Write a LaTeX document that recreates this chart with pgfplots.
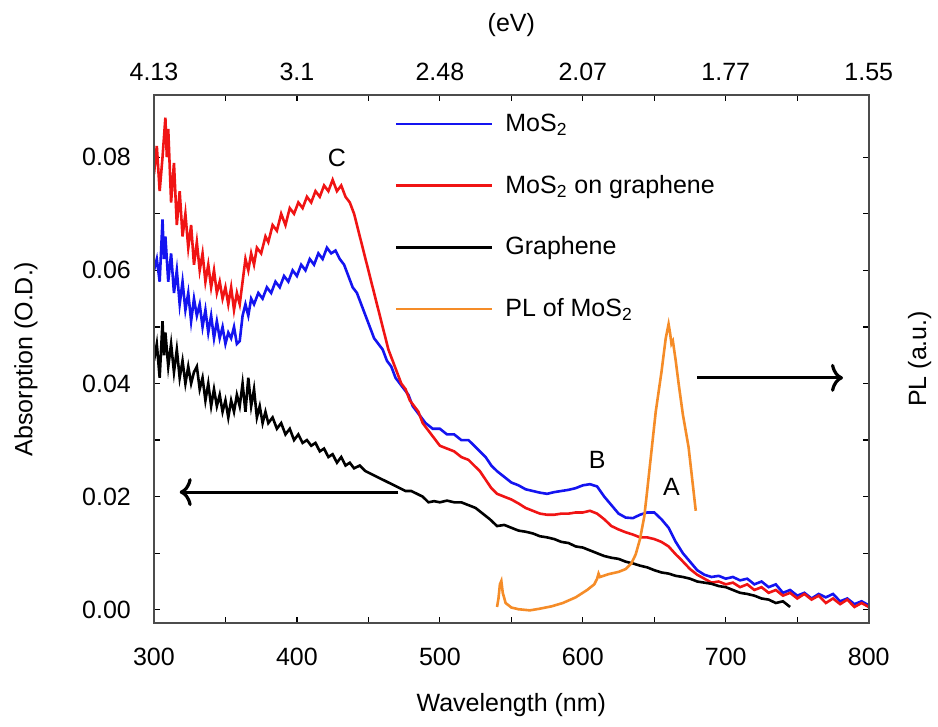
\documentclass[border=0pt]{standalone}
\usepackage{pgfplots}
\pgfplotsset{compat=1.18}
\usepackage{fontspec}
\setmainfont{Liberation Sans}
\usetikzlibrary{arrows.meta}
\definecolor{myblue}{RGB}{20,20,240}
\definecolor{myred}{RGB}{240,20,20}
\definecolor{myorange}{RGB}{245,140,40}
\newcommand{\fs}{\fontsize{12.5}{15}\selectfont}
\begin{document}
\begin{tikzpicture}
\begin{axis}[
  scale only axis, width=357.5pt, height=264pt,
  xmin=300, xmax=800, ymin=-0.0023, ymax=0.0910,
  xtick={300,400,...,800}, minor xtick={350,450,...,750},
  ytick={0,0.02,0.04,0.06,0.08}, minor ytick={0.01,0.03,0.05,0.07},
  xtick pos=bottom, ytick pos=left,
  tick align=inside, major tick length=3pt, minor tick length=3pt,
  every tick/.style={black, line width=0.6pt},
  axis line style={line width=0.8pt, black!70},
  /pgf/number format/assume math mode=true,
  yticklabel style={/pgf/number format/fixed, /pgf/number format/precision=2, /pgf/number format/fixed zerofill, font=\fs, xshift=-8pt},
  xticklabel style={font=\fs, /pgf/number format/1000 sep={}, yshift=-9pt},
  scaled y ticks=false,
  xlabel={Wavelength (nm)}, ylabel={Absorption (O.D.)},
  label style={font=\fs},
  xlabel style={at={(axis description cs:0.5,-0.155)}, anchor=center},
  ylabel style={at={(axis description cs:-0.179,0.5)}, anchor=center},
  legend style={at={(axis description cs:0.328,0.98)}, anchor=north west, draw=none, fill=none, font=\fs, row sep=16.3pt,
    /tikz/every odd column/.append style={column sep=4pt}},
  legend cell align=left,
  legend image code/.code={\draw[#1] (0pt,0pt) -- (48pt,0pt);},
  clip=true,
]
\addplot[myblue, line width=1.3pt] coordinates {
(300,0.060)(302,0.062)(304,0.058)(306,0.069)(307,0.062)(308,0.066)(310,0.058)(312,0.063)(314,0.056)(316,0.060)
(318,0.054)(320,0.058)(322,0.053)(324,0.056)(326,0.051)(328,0.055)(330,0.052)(332,0.054)(334,0.050)(336,0.053)
(338,0.049)(340,0.052)(342,0.048)(344,0.051)(346,0.048)(348,0.050)(350,0.047)(352,0.049)(354,0.048)(356,0.050)
(358,0.047)(360,0.0475)(362,0.052)(364,0.054)(366,0.052)(368,0.055)(370,0.054)(373,0.056)(376,0.055)(379,0.057)
(382,0.056)(385,0.058)(388,0.057)(391,0.059)(394,0.058)(397,0.060)(400,0.059)(403,0.061)(406,0.060)(409,0.062)
(412,0.061)(415,0.063)(418,0.062)(421,0.064)(424,0.063)(427,0.0635)(430,0.062)(433,0.061)(436,0.059)(439,0.057)
(442,0.056)(445,0.054)(448,0.052)(451,0.050)(454,0.048)(457,0.047)(460,0.046)(463,0.044)(466,0.043)(469,0.041)
(472,0.040)(475,0.039)(478,0.038)(481,0.036)(484,0.035)(487,0.034)(490,0.033)(495,0.032)(500,0.032)(505,0.031)
(510,0.031)(515,0.030)(520,0.030)(524,0.029)(528,0.028)(532,0.027)(536,0.0255)(540,0.0245)(545,0.0235)(550,0.0225)
(555,0.022)(560,0.0213)(565,0.021)(570,0.0207)(575,0.0205)(580,0.0208)(585,0.021)(590,0.0212)(595,0.0215)(600,0.022)
(605,0.0222)(610,0.0218)(615,0.020)(620,0.0185)(625,0.017)(630,0.0163)(635,0.0162)(640,0.0168)(645,0.0172)(650,0.0172)
(655,0.016)(660,0.0145)(665,0.012)(670,0.010)(675,0.0085)(680,0.007)(685,0.0062)(690,0.0058)(695,0.006)(700,0.0055)
(705,0.0058)(710,0.0052)(715,0.0055)(720,0.0045)(725,0.005)(730,0.004)(735,0.0045)(740,0.003)(745,0.0035)(750,0.0025)
(755,0.003)(760,0.002)(765,0.0028)(770,0.0022)(775,0.0028)(780,0.0015)(785,0.002)(790,0.001)(795,0.0015)(800,0.0008)
};
\addlegendentry{MoS\textsubscript{2}}
\addplot[myred, line width=1.3pt] coordinates {
(300,0.077)(302,0.082)(304,0.074)(306,0.080)(308,0.087)(309,0.080)(310,0.085)(312,0.072)(314,0.079)(316,0.068)
(318,0.074)(320,0.066)(322,0.070)(324,0.064)(326,0.068)(328,0.061)(330,0.065)(332,0.060)(334,0.063)(336,0.058)
(338,0.061)(340,0.057)(342,0.060)(344,0.056)(346,0.058)(348,0.055)(350,0.057)(352,0.054)(354,0.057)(356,0.053)
(358,0.056)(360,0.054)(362,0.058)(364,0.062)(366,0.060)(368,0.063)(370,0.061)(372,0.064)(375,0.063)(378,0.066)
(380,0.065)(383,0.068)(386,0.067)(389,0.070)(392,0.068)(395,0.071)(398,0.070)(401,0.072)(404,0.071)(407,0.073)
(410,0.072)(413,0.074)(416,0.073)(419,0.075)(422,0.074)(425,0.076)(428,0.074)(431,0.075)(434,0.073)(437,0.072)
(440,0.070)(443,0.067)(446,0.064)(449,0.061)(452,0.058)(455,0.055)(458,0.052)(461,0.049)(464,0.046)(467,0.044)
(470,0.042)(473,0.040)(476,0.039)(479,0.037)(482,0.036)(485,0.035)(488,0.033)(491,0.032)(494,0.031)(497,0.030)
(500,0.029)(505,0.0285)(510,0.028)(515,0.027)(520,0.0265)(524,0.0255)(528,0.0245)(532,0.023)(536,0.0215)(540,0.0205)
(545,0.020)(550,0.0195)(555,0.0188)(560,0.018)(565,0.0175)(570,0.017)(575,0.0168)(580,0.0168)(585,0.017)(590,0.017)
(595,0.0172)(600,0.0172)(605,0.0175)(610,0.017)(615,0.016)(620,0.0148)(625,0.0142)(630,0.0137)(635,0.0133)(640,0.0128)
(645,0.0128)(650,0.0125)(655,0.012)(660,0.0112)(665,0.0098)(669,0.0088)(675,0.0072)(680,0.0062)(685,0.0055)(690,0.0048)
(695,0.005)(700,0.0045)(705,0.0048)(710,0.004)(715,0.0045)(720,0.0035)(725,0.004)(730,0.003)(735,0.0035)(740,0.0025)
(745,0.003)(750,0.002)(755,0.0028)(760,0.0018)(765,0.0025)(770,0.0012)(775,0.002)(780,0.001)(785,0.0018)(790,0.0005)
(795,0.0012)(800,0.0005)
};
\addlegendentry{MoS\textsubscript{2} on graphene}
\addplot[black, line width=1.3pt] coordinates {
(300,0.044)(302,0.047)(304,0.041)(306,0.051)(307,0.045)(308,0.049)(310,0.043)(312,0.047)(314,0.042)(316,0.046)
(318,0.041)(320,0.044)(322,0.040)(324,0.043)(326,0.040)(328,0.042)(330,0.043)(332,0.039)(334,0.041)(336,0.037)
(338,0.040)(340,0.036)(342,0.039)(344,0.036)(346,0.038)(348,0.035)(350,0.037)(352,0.034)(354,0.037)(356,0.035)
(358,0.038)(360,0.036)(362,0.040)(364,0.035)(366,0.041)(368,0.036)(370,0.039)(372,0.034)(374,0.036)(376,0.033)
(378,0.035)(380,0.033)(383,0.034)(386,0.032)(389,0.033)(392,0.031)(395,0.032)(398,0.030)(401,0.031)(404,0.0295)
(407,0.030)(410,0.029)(413,0.0295)(416,0.028)(419,0.0285)(422,0.027)(425,0.0275)(428,0.026)(431,0.027)(434,0.0255)
(437,0.026)(440,0.025)(444,0.0255)(448,0.0245)(452,0.024)(456,0.0235)(460,0.023)(464,0.0225)(468,0.022)(472,0.0215)
(476,0.021)(480,0.021)(484,0.0205)(488,0.020)(492,0.019)(496,0.0192)(500,0.019)(505,0.0193)(510,0.019)(515,0.019)
(520,0.0185)(525,0.018)(530,0.017)(535,0.016)(540,0.0148)(545,0.015)(550,0.0145)(555,0.014)(560,0.0138)(565,0.0135)
(570,0.013)(575,0.0128)(580,0.0125)(585,0.012)(590,0.0118)(595,0.0112)(600,0.011)(605,0.0105)(610,0.010)(615,0.0095)
(620,0.0092)(625,0.009)(630,0.0085)(635,0.0082)(640,0.0078)(645,0.0075)(650,0.007)(655,0.0066)(660,0.0064)(665,0.006)
(670,0.0058)(675,0.0055)(680,0.005)(685,0.0048)(690,0.0046)(695,0.0042)(700,0.004)(705,0.0035)(710,0.003)(715,0.0028)
(720,0.0025)(725,0.002)(730,0.0018)(735,0.0012)(740,0.0015)(745,0.0005)
};
\addlegendentry{Graphene}
\addplot[myorange, line width=1.3pt] coordinates {
(540,0.0005)(541,0.002)(542,0.0045)(543,0.0051)(544,0.003)(546,0.0012)(550,0.0004)(555,0.0001)(563,-0.0001)(570,0.0002)
(578,0.0006)(586,0.0012)(595,0.0022)(603,0.0035)(608,0.0045)(610,0.0055)(611,0.0064)(612,0.0058)(618,0.0063)(625,0.0067)
(630,0.0072)(634,0.0082)(637,0.0098)(640,0.0125)(643,0.0165)(645,0.021)(648,0.028)(651,0.035)(655,0.042)(658,0.048)
(660,0.0505)(661,0.049)(662,0.047)(663,0.0475)(665,0.044)(667,0.040)(670,0.0345)(674,0.0287)(677,0.022)(679,0.0175)
};
\addlegendentry{PL of MoS\textsubscript{2}}
\node[font=\fs] at (axis cs:428,0.0798) {C};
\node[font=\fs] at (axis cs:610,0.0265) {B};
\node[font=\fs] at (axis cs:662,0.0217) {A};
\draw[line width=1.6pt, -{To[length=6pt,width=14pt]}] (axis cs:471,0.0208) -- (axis cs:318,0.0208);
\draw[line width=1.6pt, -{To[length=6pt,width=14pt]}] (axis cs:680,0.041) -- (axis cs:782,0.041);
\path (axis description cs:0,0) ++(-77pt,-52pt) coordinate (bbsw);
\path (axis description cs:1,1) ++(34.5pt,47.5pt) coordinate (bbne);
\end{axis}
\begin{axis}[
  scale only axis, width=357.5pt, height=264pt,
  xmin=300, xmax=800, ymin=-0.0023, ymax=0.0910,
  xtick={300,400,...,800}, minor xtick={350,450,...,750},
  xticklabels={4.13,3.1,2.48,2.07,1.77,1.55},
  ytick={0,0.01,...,0.08}, yticklabels={},
  scaled y ticks=false, scaled x ticks=false,
  xtick pos=top, ytick pos=right, xticklabel pos=top, yticklabel pos=right,
  tick align=inside, major tick length=3pt, minor tick length=3pt,
  every tick/.style={black, line width=0.6pt},
  axis line style={line width=0.8pt, black!70},
  xticklabel style={font=\fs, yshift=3.5pt},
  xlabel={(eV)}, ylabel={PL (a.u.)},
  label style={font=\fs},
  xlabel style={at={(axis description cs:0.5,1.1326)}, anchor=center},
  ylabel style={at={(axis description cs:1.0713,0.5)}, anchor=center},
]
\end{axis}
\path[use as bounding box] (bbsw) rectangle (bbne);
\end{tikzpicture}
\end{document}
